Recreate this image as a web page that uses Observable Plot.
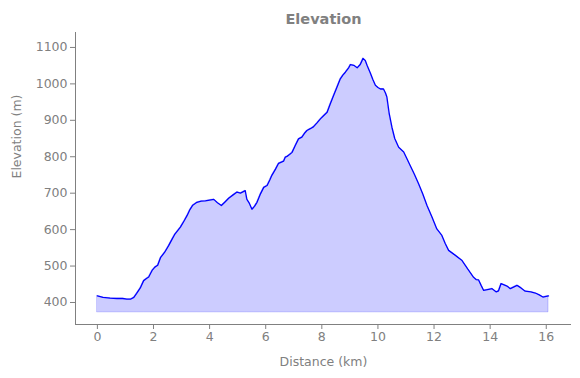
<!DOCTYPE html>
<html>
<head>
<meta charset="utf-8">
<script src="https://cdn.jsdelivr.net/npm/d3@7"></script>
<script src="https://cdn.jsdelivr.net/npm/@observablehq/plot@0.6"></script>
<style>
  html, body { margin: 0; padding: 0; background: #fff; }
</style>
</head>
<body>
<div id="chart"></div>
<script>
const distanceKm = [0.00,0.20,0.45,0.70,0.90,1.05,1.18,1.30,1.40,1.53,1.65,1.75,1.83,1.95,2.05,2.15,2.25,2.40,2.54,2.65,2.75,2.96,3.10,3.20,3.30,3.40,3.55,3.70,3.85,4.00,4.15,4.28,4.42,4.55,4.68,4.85,4.98,5.10,5.27,5.33,5.42,5.51,5.60,5.69,5.80,5.93,6.05,6.15,6.22,6.35,6.46,6.64,6.70,6.76,6.85,6.94,7.05,7.17,7.29,7.40,7.47,7.59,7.70,7.83,7.95,8.07,8.19,8.30,8.42,8.55,8.66,8.75,8.84,8.95,9.02,9.14,9.26,9.37,9.47,9.55,9.62,9.73,9.82,9.91,10.00,10.09,10.20,10.27,10.32,10.40,10.50,10.60,10.74,10.92,11.04,11.15,11.30,11.45,11.60,11.75,11.92,12.10,12.28,12.40,12.52,12.75,13.00,13.20,13.41,13.50,13.59,13.68,13.77,13.95,14.07,14.22,14.30,14.39,14.54,14.60,14.72,14.85,14.96,15.10,15.25,15.45,15.61,15.75,15.88,16.00,16.08];
const elevationM = [418,414,412,411,411,409,409,414,425,440,460,466,470,488,497,502,523,538,556,572,586,607,625,639,655,667,675,678,679,681,683,674,666,676,686,696,703,700,707,683,672,656,664,675,696,716,721,737,749,766,782,788,799,801,806,812,830,849,854,866,872,877,882,893,904,913,922,945,968,993,1014,1024,1032,1043,1053,1051,1044,1053,1070,1064,1050,1030,1012,996,990,986,986,975,964,920,881,850,826,813,794,776,752,726,698,666,636,602,584,562,543,530,515,492,469,463,462,447,433,436,438,429,432,452,447,445,438,443,447,440,431,429,426,421,415,417,418];
const baseElevation = 373;
const xTicks = [0,2,4,6,8,10,12,14,16];
const yTicks = [400,500,600,700,800,900,1000,1100];
const xDomain = [-0.78, 16.9];
const yDomain = [339.6, 1141];
const titleText = "Elevation";
const xLabel = "Distance (km)";
const yLabel = "Elevation (m)";

const data = distanceKm.map((d, i) => ({distance: d, elevation: elevationM[i], base: baseElevation}));
const gray = "#808080";
const fs = 12.5;

const chart = Plot.plot({
  width: 580,
  height: 378,
  marginLeft: 75,
  marginRight: 9,
  marginTop: 32,
  marginBottom: 54,
  style: {fontFamily: "DejaVu Sans", fontSize: fs + "px", color: gray, background: "#fff"},
  x: {domain: xDomain},
  y: {domain: yDomain},
  marks: [
    Plot.areaY(data, {x: "distance", y1: "base", y2: "elevation", fill: "blue", fillOpacity: 0.2, stroke: "blue", strokeOpacity: 0.2, strokeWidth: 1}),
    Plot.lineY(data, {x: "distance", y: "elevation", stroke: "blue", strokeWidth: 1.3}),
    Plot.ruleX([xDomain[0]], {stroke: gray, strokeWidth: 1}),
    Plot.ruleY([yDomain[0]], {stroke: gray, strokeWidth: 1}),
    Plot.axisX({ticks: xTicks, tickFormat: d3.format("d"), tickSize: 5, tickPadding: 3, label: null, stroke: gray, fill: gray, fontSize: fs}),
    Plot.axisY({ticks: yTicks, tickFormat: d3.format("d"), tickSize: 5, tickPadding: 3, label: null, stroke: gray, fill: gray, fontSize: fs}),
    Plot.text([titleText], {frameAnchor: "top", text: d => d, dy: -19, fontWeight: "bold", fontSize: 14.5, fill: gray}),
    Plot.text([xLabel], {frameAnchor: "bottom", text: d => d, dy: 41, fontSize: fs, fill: gray}),
    Plot.text([yLabel], {frameAnchor: "left", text: d => d, dx: -59, rotate: -90, fontSize: fs, fill: gray})
  ]
});
document.getElementById("chart").appendChild(chart);
</script>
</body>
</html>
